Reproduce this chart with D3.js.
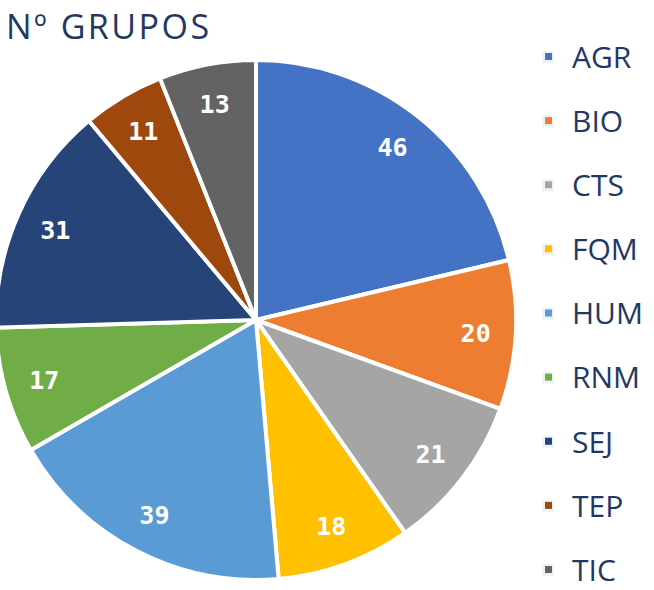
<!DOCTYPE html>
<html>
<head>
<meta charset="utf-8">
<script src="https://cdn.jsdelivr.net/npm/d3@7"></script>
<style>
  body { margin: 0; background: #fff; }
  svg { display: block; }
</style>
</head>
<body>
<div id="chart"></div>
<script>
"use strict";

var categories = ["AGR", "BIO", "CTS", "FQM", "HUM", "RNM", "SEJ", "TEP", "TIC"];
var values = [46, 20, 21, 18, 39, 17, 31, 11, 13];
var colors = ["#4472C4", "#ED7D31", "#A5A5A5", "#FFC000", "#5B9BD5", "#70AD47", "#264478", "#9E480E", "#636363"];

var w = 654, h = 590;
var cx = 256, cy = 320, radius = 260;

var svg = d3.select("#chart")
    .append("svg")
    .attr("width", w)
    .attr("height", h);

svg.append("text")
    .attr("x", 6)
    .attr("y", 39)
    .attr("font-family", "Open Sans, sans-serif")
    .attr("font-size", 34)
    .attr("letter-spacing", 2.5)
    .attr("fill", "#1F3864")
    .text("Nº GRUPOS");

var color = d3.scaleOrdinal().domain(categories).range(colors);

var pie = d3.pie().sort(null).value(function(d){ return d.value; });
var data = categories.map(function(c, i){ return { name: c, value: values[i] }; });

var arc = d3.arc().innerRadius(0).outerRadius(radius);
var labelArc = d3.arc().innerRadius(220).outerRadius(220);

var g = svg.append("g").attr("transform", "translate(" + cx + "," + cy + ")");

var arcs = g.selectAll("g.arc")
    .data(pie(data))
    .enter()
    .append("g")
    .attr("class", "arc");

arcs.append("path")
    .attr("d", arc)
    .attr("fill", function(d){ return color(d.data.name); })
    .attr("stroke", "#fff")
    .attr("stroke-width", 4)
    .attr("stroke-linejoin", "round");

arcs.append("text")
    .attr("transform", function(d){
        var c = labelArc.centroid(d);
        return "translate(" + c[0] + "," + c[1] + ")";
    })
    .attr("text-anchor", "middle")
    .attr("dy", "0.35em")
    .attr("font-family", "DejaVu Sans Mono, monospace")
    .attr("font-weight", "bold")
    .attr("font-size", 25)
    .attr("fill", "#fff")
    .text(function(d){ return d.data.value; });

// legend
var legY = d3.scalePoint().domain(categories).range([57, 570]);

var leg = svg.selectAll("g.leg")
    .data(categories)
    .enter()
    .append("g")
    .attr("class", "leg")
    .attr("transform", function(d){ return "translate(0," + legY(d) + ")"; });

leg.append("rect")
    .attr("x", 542)
    .attr("y", -6)
    .attr("width", 12)
    .attr("height", 12)
    .attr("fill", "#eef3f8");

leg.append("rect")
    .attr("x", 545)
    .attr("y", -4)
    .attr("width", 7)
    .attr("height", 7)
    .attr("fill", function(d){ return color(d); });

leg.append("text")
    .attr("x", 572)
    .attr("y", 0)
    .attr("dy", "0.36em")
    .attr("font-family", "Open Sans, sans-serif")
    .attr("font-size", 30)
    .attr("fill", "#1F3864")
    .text(function(d){ return d; });
</script>
</body>
</html>
